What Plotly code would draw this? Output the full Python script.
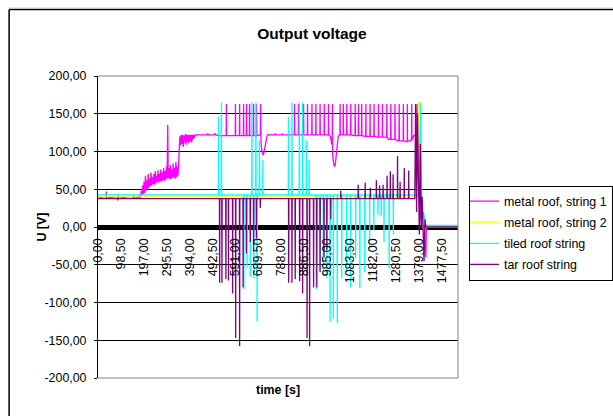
import plotly.graph_objects as go

# ---------------- axis ticks ----------------
x_ticks = [0, 98.5, 197, 295.5, 394, 492.5, 591, 689.5, 788, 886.5, 985,
           1083.5, 1182, 1280.5, 1379, 1477.5]
x_tick_labels = ["0,00", "98,50", "197,00", "295,50", "394,00", "492,50",
                 "591,00", "689,50", "788,00", "886,50", "985,00",
                 "1083,50", "1182,00", "1280,50", "1379,00", "1477,50"]
y_ticks = [-200, -150, -100, -50, 0, 50, 100, 150, 200]
y_tick_labels = ["-200,00", "-150,00", "-100,00", "-50,00", "0,00",
                 "50,00", "100,00", "150,00", "200,00"]

series_names = ["metal roof, string 1", "metal roof, string 2",
                "tiled roof string", "tar roof string"]

# ---------------- metal roof, string 1 (magenta) ----------------
mag_base_t = [0, 12, 24, 35, 36, 37, 50, 70, 84, 85, 87, 88, 110, 130, 152, 153,
              154, 170, 176, 180,
              183, 186, 189, 192, 195, 198, 201, 204, 207, 210, 213, 216, 219,
              222, 225, 228, 231, 234, 237, 240, 243, 246, 249, 252, 255, 258,
              261, 264, 267, 270, 273, 276, 279, 282, 285, 288, 291, 294, 297,
              300, 302, 305, 308, 311, 314, 317, 320, 323, 326, 329, 332, 335,
              338, 341, 344, 346, 349, 352, 355, 358, 361, 364, 367, 370, 373,
              376, 379, 382, 385, 388, 391, 394, 397, 400, 403, 406, 409, 412,
              415, 419,
              470, 472, 474, 500, 505, 507, 520,
              698, 701, 704, 707, 710, 713, 716, 719, 722, 725, 728,
              760, 762, 764, 790, 792, 794,
              995, 1000, 1005, 1009, 1013, 1017, 1020, 1023, 1026, 1029, 1033, 1038,
              1100, 1150, 1200, 1250, 1290, 1330, 1345, 1358, 1368,
              1372, 1375, 1380, 1385, 1390, 1395, 1405, 1410, 1412, 1548]
mag_base_v = [38, 39, 38, 38, 47, 38, 39, 38, 38, 35, 44, 38, 39, 38, 38, 43,
              38, 39, 42, 39,
              40, 48, 42, 55, 44, 60, 45, 68, 48, 62, 50, 70, 52,
              64, 54, 72, 55, 66, 57, 70, 56, 74, 58, 68, 60, 75,
              59, 70, 61, 76, 60, 72, 62, 78, 61, 74, 63, 80, 64,
              135, 65, 78, 63, 82, 64, 76, 65, 84, 66, 78, 64, 86,
              66, 80, 68, 78, 105, 120, 108, 122, 110, 122, 106, 121, 112,
              123, 109, 122, 113, 122, 111, 122, 114, 122, 112, 122, 116, 122,
              118, 122,
              122, 124, 122, 122, 124, 122, 121,
              122, 112, 102, 97, 95, 98, 103, 110, 117, 121, 122,
              122, 124, 122, 122, 124, 122,
              122, 119, 110, 96, 85, 80, 82, 90, 100, 112, 120, 122,
              121, 120, 119, 116, 114, 113, 115, 121, 122,
              163, 122, 40, 10, 20, 0, -5, -40, 0, 0]
mag_spike_t = [552, 591, 609, 626, 639, 652, 669, 682, 699,
               845, 862, 884, 901, 920, 937, 955, 973, 991, 1008, 1041, 1055,
               1070, 1087, 1106, 1120, 1134, 1152, 1170, 1187, 1206, 1223,
               1242, 1259, 1277, 1295, 1313, 1330, 1349]
mag_spike_v = [163] * 38

# ---------------- metal roof, string 2 (yellow) ----------------
yel_base_t = [0, 1376, 1378, 1384, 1386, 1392, 1396, 1400, 1404, 1406, 1548]
yel_base_v = [41, 41, 165, 165, 40, 30, 10, -5, -20, 0, 0]
yel_spike_t = []
yel_spike_v = []

# ---------------- tiled roof string (cyan) ----------------
cya_base_t = [0, 1380, 1388, 1392, 1396, 1400, 1404, 1408, 1548]
cya_base_v = [42.5, 42.5, 165, 30, 10, 20, 5, 2, 2]
cya_spike_t = [519, 531, 662, 679, 694, 709,
               627, 641, 655, 670, 684,
               819, 834, 866, 880, 896, 908,
               938, 955, 969, 984, 998, 1012, 1029, 1048, 1069, 1086,
               1108, 1126, 1147, 1168, 1186, 1204, 1218, 1230, 1252, 1270]
cya_spike_v = [146, 165, 165, 165, 115, 89,
               -82, -54, -66, -68, -125,
               146, 165, 165, 165, 115, 89,
               -82, -56, -65, -68, -125, -121, -127, -68, -60, -80,
               -41, -81, -60, -30, -4, 16, 14, -20, -55, -10]

# ---------------- tar roof string (purple) ----------------
pur_base_t = [0, 1362, 1366, 1370, 1374, 1378, 1382, 1386, 1390, 1394, 1398,
              1402, 1406, 1410, 1548]
pur_base_v = [37.5, 37.5, 163, 20, 150, 60, -10, 110, 0, 40, -30, -45, 10, 0, 0]
pur_spike_t = [523, 533, 550, 561, 579, 592, 609, 624, 638, 655, 669, 681, 698,
               820, 834, 848, 867, 880, 899, 910, 927, 941, 955, 972, 984, 1001,
               1044, 1119, 1149, 1171, 1197, 1211, 1226, 1243, 1257, 1269, 1288,
               1299, 1317, 1336]
pur_spike_v = [-74, -74, -69, -71, -88, -147, -158, -80, -35, -20, -25, -15, 25,
               -74, -74, -69, -72, -88, -147, -158, -80, -80, -60, -40, -30, 10,
               48, 56, 59, 52, 62, 55, 56, 68, 74, 70, 94, 60, 78, 75]

colors = ["#FF00FF", "#FFFF00", "#00FFFF", "#800080"]


def build(base_t, base_v, spk_t, spk_v, w=0.8):
    pts = [(t, v, 0) for t, v in zip(base_t, base_v)]
    for t, v in zip(spk_t, spk_v):
        idx = max(j for j, bt in enumerate(base_t) if bt <= t)
        b = base_v[idx]
        pts += [(t - w, b, 1), (t, v, 1), (t + w, b, 1)]
    pts.sort(key=lambda p: (p[0], p[2]))
    return [p[0] for p in pts], [p[1] for p in pts]


data = [
    build(mag_base_t, mag_base_v, mag_spike_t, mag_spike_v),
    build(yel_base_t, yel_base_v, yel_spike_t, yel_spike_v),
    build(cya_base_t, cya_base_v, cya_spike_t, cya_spike_v),
    build(pur_base_t, pur_base_v, pur_spike_t, pur_spike_v),
]

FONT = "Liberation Sans, Arial, sans-serif"

fig = go.Figure()
for i, (xs, ys) in enumerate(data):
    fig.add_trace(go.Scatter(x=xs, y=ys, mode="lines", name=series_names[i],
                             line=dict(color=colors[i], width=1.3),
                             legendgroup=str(i)))

# geometry in pixels
L, R, T, B = 97.5, 155, 76, 37.5
W, H = 613, 416
pw, ph = W - L - R, H - T - B


def px_x(px):
    return (px - L) / pw


def px_y(py):
    return (H - B - py) / ph


fig.update_layout(
    width=W, height=H, autosize=False,
    margin=dict(l=L, r=R, t=T, b=B, pad=0, autoexpand=False),
    paper_bgcolor="white", plot_bgcolor="white",
    font=dict(family=FONT, size=12.4, color="black"),
    title=dict(text="<b>Output voltage</b>", x=312 / W, xanchor="center",
               y=1 - 33.5 / H, yanchor="middle",
               font=dict(family=FONT, size=15.5, color="black")),
    showlegend=True,
    legend=dict(x=px_x(469), y=px_y(185.7), xanchor="left", yanchor="top",
                bordercolor="black", borderwidth=1, bgcolor="white",
                font=dict(family=FONT, size=12.4, color="black"),
                itemwidth=30, tracegroupgap=2, traceorder="grouped",
                indentation=-6),
    xaxis=dict(range=[0, 1548], tickvals=x_ticks, ticktext=x_tick_labels,
               tickangle=-90, showgrid=False, zeroline=False, showline=False,
               anchor="free", position=0.5, ticks="", ticklabelstandoff=8,
               tickfont=dict(family=FONT, size=12.4, color="black")),
    yaxis=dict(range=[-200, 200], tickvals=y_ticks, ticktext=y_tick_labels,
               showgrid=True, gridcolor="black", gridwidth=1,
               zeroline=True, zerolinecolor="black", zerolinewidth=5,
               showline=True, linecolor="black", linewidth=1,
               ticks="outside", ticklen=3, tickcolor="black",
               ticklabelstandoff=5,
               tickfont=dict(family=FONT, size=12.4, color="black")),
    annotations=[
        dict(text="<b>U [V]</b>", xref="paper", yref="paper",
             x=px_x(32), y=0.5, textangle=-90, showarrow=False,
             font=dict(family=FONT, size=12.4, color="black")),
        dict(text="<b>time [s]</b>", xref="paper", yref="paper",
             x=px_x(278), y=px_y(400), showarrow=False,
             font=dict(family=FONT, size=12.4, color="black")),
    ],
    shapes=[
        dict(type="line", xref="paper", yref="paper", x0=0, x1=1, y0=1, y1=1,
             line=dict(color="#808080", width=1), layer="above"),
        dict(type="line", xref="paper", yref="paper", x0=1, x1=1, y0=0, y1=1,
             line=dict(color="#808080", width=1), layer="above"),
        dict(type="line", xref="paper", yref="paper", x0=0, x1=1, y0=0, y1=0,
             line=dict(color="#808080", width=1), layer="above"),
        dict(type="line", xref="paper", yref="paper", x0=px_x(8.5), x1=px_x(8.5),
             y0=px_y(9.5), y1=px_y(420), line=dict(color="black", width=1.5)),
        dict(type="line", xref="paper", yref="paper", x0=px_x(8.5), x1=px_x(620),
             y0=px_y(9.5), y1=px_y(9.5), line=dict(color="black", width=1.5)),
        dict(type="line", xref="paper", yref="paper", x0=px_x(8.5), x1=px_x(620),
             y0=px_y(8), y1=px_y(8), line=dict(color="#C0C0C0", width=1)),
    ],
)

fig.write_html("out.html",
               config={"displayModeBar": False},
               post_script="document.body.style.margin='0';"
                           "document.body.style.overflow='hidden';")
